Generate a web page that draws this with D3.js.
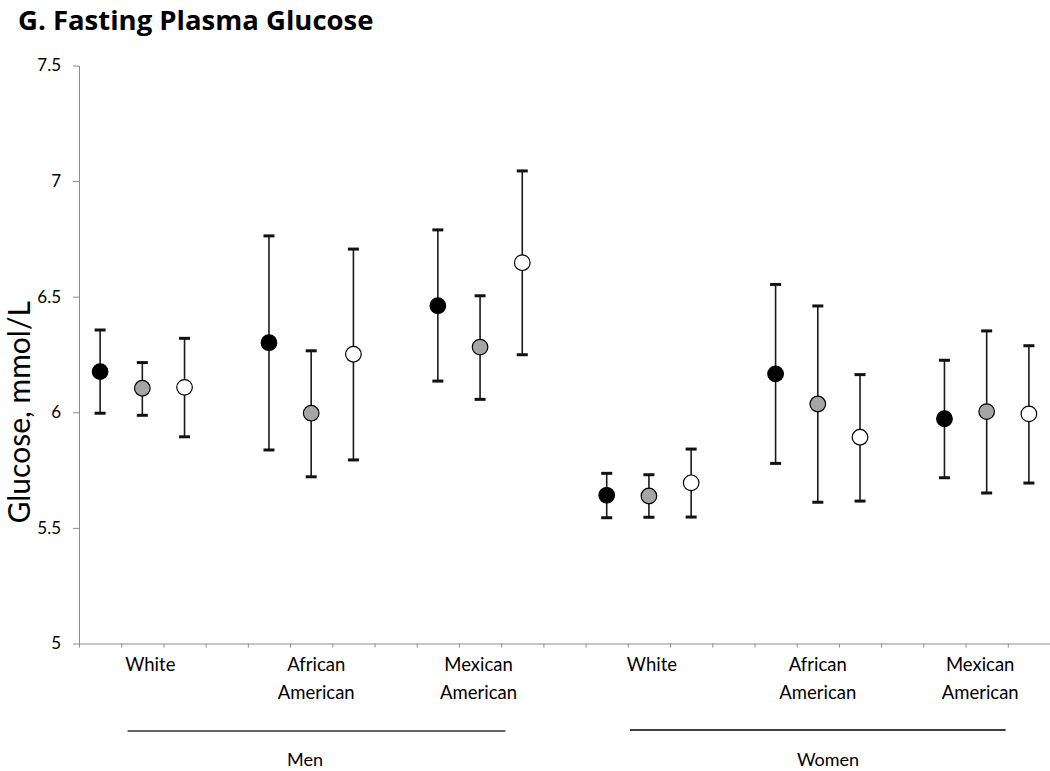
<!DOCTYPE html>
<html>
<head>
<meta charset="utf-8">
<script src="https://cdn.jsdelivr.net/npm/d3@7/dist/d3.min.js"></script>
<style>
  html, body { margin: 0; padding: 0; background: #fff; }
  svg { display: block; }
  text { font-family: Lato, "Open Sans", sans-serif; fill: #000; }
</style>
</head>
<body>
<svg id="chart" width="1050" height="771"></svg>
<script>
// ---- data ----
const groups = ["White", "African American", "Mexican American", "White", "African American", "Mexican American"];
const sexes = ["Men", "Women"];
const seriesNames = ["black", "gray", "white"];
const yTicks = [5, 5.5, 6, 6.5, 7, 7.5];

const meanBlack = [6.176, 6.301, 6.461, 5.641, 6.166, 5.972];
const meanGray  = [6.104, 5.996, 6.282, 5.638, 6.036, 6.003];
const meanWhite = [6.108, 6.251, 6.647, 5.695, 5.892, 5.993];

const lowBlack = [5.996, 5.837, 6.135, 5.544, 5.779, 5.717];
const lowGray  = [5.987, 5.721, 6.056, 5.546, 5.611, 5.651];
const lowWhite = [5.894, 5.794, 6.249, 5.547, 5.616, 5.694];

const highBlack = [6.356, 6.763, 6.789, 5.736, 6.553, 6.225];
const highGray  = [6.215, 6.266, 6.504, 5.730, 6.460, 6.352];
const highWhite = [6.320, 6.706, 7.044, 5.841, 6.163, 6.288];

const fills = { black: "#000000", gray: "#a5a5a5", white: "#ffffff" };

// ---- build ----
const means = [meanBlack, meanGray, meanWhite];
const lows = [lowBlack, lowGray, lowWhite];
const highs = [highBlack, highGray, highWhite];
const points = [];
groups.forEach((g, gi) => {
  seriesNames.forEach((s, si) => {
    points.push({ slot: gi * 4 + si, series: s, mean: means[si][gi], low: lows[si][gi], high: highs[si][gi] });
  });
});
const nSlots = groups.length * 4 - 1;

const svg = d3.select("#chart");
const x = d3.scaleLinear().domain([0, nSlots]).range([79, 1050]);
const y = d3.scaleLinear().domain([5, 7.5]).range([643.5, 65.5]);

// title
svg.append("text").attr("x", 18).attr("y", 29.5)
  .style("font-family", "'Open Sans', sans-serif")
  .style("font-weight", "bold").style("font-size", "27.5px")
  .text("G. Fasting Plasma Glucose");

// y axis
const yAxis = svg.append("g").attr("transform", `translate(${x(0)},0)`)
  .call(d3.axisLeft(y).tickValues(yTicks).tickFormat(d3.format("")).tickSize(6).tickSizeOuter(0));
yAxis.select(".domain").attr("stroke", "#8c8c8c");
yAxis.selectAll(".tick line").attr("stroke", "#8c8c8c");
yAxis.selectAll(".tick text").attr("x", -18).style("font-size", "17px").style("font-family", "Lato, sans-serif").attr("fill", "#000");

// x axis
const xAxis = svg.append("g").attr("transform", `translate(0,${y(5)})`)
  .call(d3.axisBottom(x).tickValues(d3.range(0, nSlots + 1)).tickFormat("").tickSize(4).tickSizeOuter(0));
xAxis.select(".domain").attr("stroke", "#8c8c8c");
xAxis.selectAll(".tick line").attr("stroke", "#8c8c8c");

// y title
svg.append("text")
  .attr("transform", `translate(30,${y(6)}) rotate(-90)`)
  .attr("text-anchor", "middle")
  .style("font-size", "30px")
  .text("Glucose, mmol/L");

// error bars
const eb = svg.append("g");
eb.selectAll("line.whisker").data(points).join("line")
  .attr("class", "whisker")
  .attr("x1", d => x(d.slot + 0.5)).attr("x2", d => x(d.slot + 0.5))
  .attr("y1", d => y(d.low)).attr("y2", d => y(d.high))
  .attr("stroke", "#1a1a1a").attr("stroke-width", 1.6);
["low", "high"].forEach(k => {
  eb.selectAll("line.cap-" + k).data(points).join("line")
    .attr("class", "cap-" + k)
    .attr("x1", d => x(d.slot + 0.5) - 5.5).attr("x2", d => x(d.slot + 0.5) + 5.5)
    .attr("y1", d => y(d[k])).attr("y2", d => y(d[k]))
    .attr("stroke", "#111").attr("stroke-width", 3);
});

// markers
svg.append("g").selectAll("circle").data(points).join("circle")
  .attr("cx", d => x(d.slot + 0.5)).attr("cy", d => y(d.mean))
  .attr("r", 7.8)
  .attr("fill", d => fills[d.series])
  .attr("stroke", "#000").attr("stroke-width", 1.2);

// category labels
const labelNudge = [8, 5, -1.5, 3, 0, -6.5];
const lab = svg.append("g");
groups.forEach((g, gi) => {
  const cx = x(gi * 4 + 1.5) + labelNudge[gi];
  const words = g.split(" ");
  const t = lab.append("text").attr("text-anchor", "middle").style("font-size", "18.5px");
  words.forEach((w, wi) => {
    t.append("tspan").attr("x", cx).attr("y", 671 + wi * 28).text(w);
  });
});

// group lines and labels
const groupSpans = [[1.15, 10.1], [13.05, 21.95]];
const groupLabelX = [305, 828];
sexes.forEach((s, si) => {
  const [a, b] = groupSpans[si];
  svg.append("line").attr("x1", x(a)).attr("x2", x(b))
    .attr("y1", 731 - si).attr("y2", 731 - si)
    .attr("stroke", si === 0 ? "#333" : "#000").attr("stroke-width", 1.4);
  svg.append("text").attr("x", groupLabelX[si])
    .attr("y", 766).attr("text-anchor", "middle").style("font-size", "18px").text(s);
});
</script>
</body>
</html>
